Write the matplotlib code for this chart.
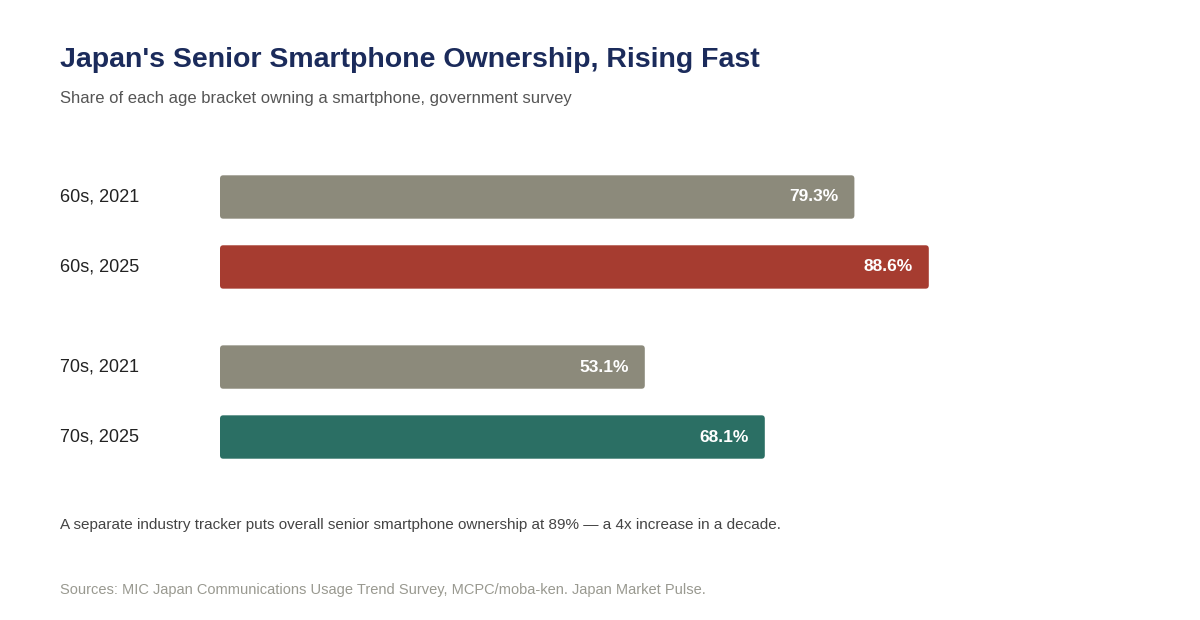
import matplotlib.pyplot as plt
from matplotlib.patches import FancyBboxPatch

labels = ["60s, 2021", "60s, 2025", "70s, 2021", "70s, 2025"]
values = [79.3, 88.6, 53.1, 68.1]
colors = ["#8c8a7b", "#a63c30", "#8c8a7b", "#2b6f64"]
ypos = [0, 1, 2.43, 3.43]

W, H = 1200, 620
fig = plt.figure(figsize=(12, 6.2), dpi=100)
plt.rcParams['font.family'] = ['Liberation Sans', 'DejaVu Sans']

# axes: x 220..1020 px (0..100%), y 162..472 px
ax = fig.add_axes([220 / W, 1 - 472 / H, 800 / W, 310 / H])
ax.set_xlim(0, 100)
ax.set_ylim(3.93, -0.5)
ax.axis("off")

bh = 0.62
for y, v, c, lab in zip(ypos, values, colors, labels):
    box = FancyBboxPatch((0, y - bh / 2), v, bh,
                         boxstyle="round,pad=0,rounding_size=0.4",
                         mutation_aspect=0.12, fc=c, ec="none")
    ax.add_patch(box)
    ax.text(v - 2, y, f"{v}%", ha="right", va="center", color="white",
            fontsize=12.5, fontweight="bold")
    fig.text(60 / W, 1 - (197 + 70 * y) / H, lab, ha="left", va="center",
             fontsize=13, color="#222222")

fig.text(60 / W, 1 - 60 / H, "Japan's Senior Smartphone Ownership, Rising Fast",
         fontsize=20.5, fontweight="bold", color="#1b2b5b", va="center")
fig.text(60 / W, 1 - 99 / H,
         "Share of each age bracket owning a smartphone, government survey",
         fontsize=12, color="#555555", va="center")
fig.text(60 / W, 1 - 525 / H,
         "A separate industry tracker puts overall senior smartphone ownership at 89% \u2014 a 4x increase in a decade.",
         fontsize=11, color="#444444", va="center")
fig.text(60 / W, 1 - 590 / H,
         "Sources: MIC Japan Communications Usage Trend Survey, MCPC/moba-ken. Japan Market Pulse.",
         fontsize=10.5, color="#999990", va="center")

fig.savefig("out.png", dpi=100, facecolor="white")
